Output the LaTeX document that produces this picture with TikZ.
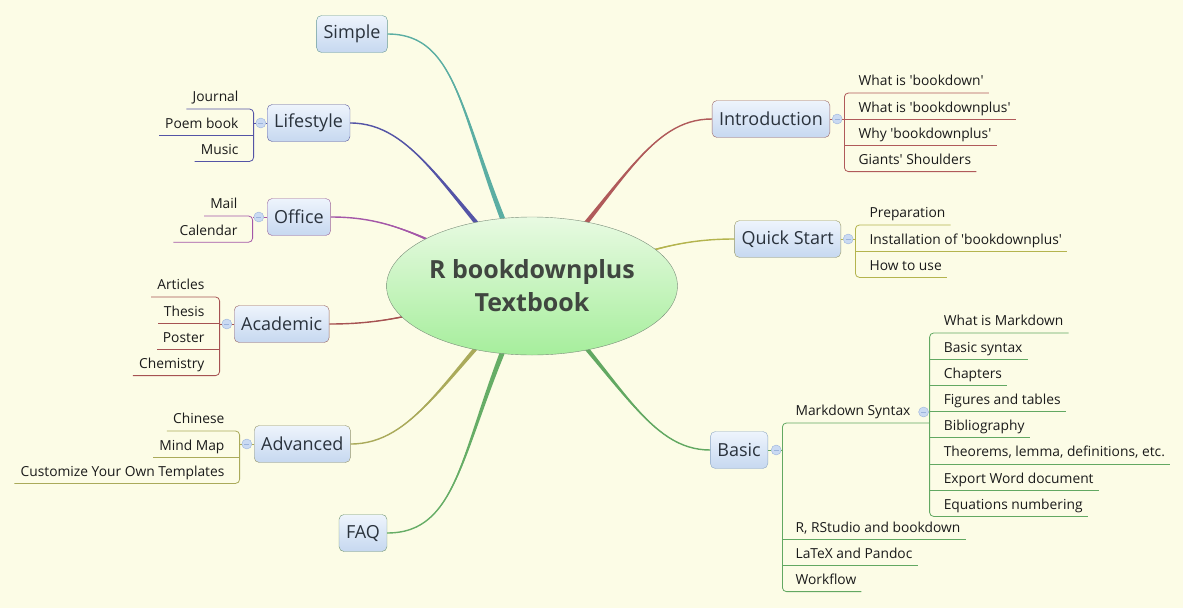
\documentclass[tikz,border=0pt]{standalone}
\usepackage{fontspec}
\setmainfont{Open Sans}
\usetikzlibrary{positioning,shapes.geometric,calc}

\definecolor{bgpaper}{HTML}{FCFCE6}
\definecolor{boxtop}{HTML}{EEF4FC}
\definecolor{boxbot}{HTML}{C6D8F0}
\definecolor{roottop}{HTML}{E8FAE2}
\definecolor{rootbot}{HTML}{A6EE9C}
\definecolor{rootedge}{HTML}{7A8E7A}
\definecolor{roottext}{HTML}{404640}
\definecolor{topictext}{HTML}{2A323C}
\definecolor{itemtext}{HTML}{1A1A1A}
\definecolor{foldfill}{HTML}{CADAF2}
\definecolor{foldedge}{HTML}{9CB4DC}
\definecolor{cSimple}{HTML}{5BAEA3}
\definecolor{cLife}{HTML}{5454A6}
\definecolor{cOffice}{HTML}{A457A8}
\definecolor{cAcad}{HTML}{A65252}
\definecolor{cAdv}{HTML}{AAAA5A}
\definecolor{cFaq}{HTML}{66AD66}
\definecolor{cIntro}{HTML}{B05A5A}
\definecolor{cQuick}{HTML}{B4B44E}
\definecolor{cBasic}{HTML}{62A862}
\definecolor{basicedge}{HTML}{8FA8C4}

\newcommand{\sq}{\textquotesingle}

\tikzset{
  topic/.style={draw=#1, rounded corners=5pt, minimum height=37pt, inner xsep=7pt, top color=boxtop, bottom color=boxbot, text=topictext, font=\fontsize{18}{20}\selectfont},
  root/.style={ellipse, draw=rootedge, top color=roottop, bottom color=rootbot, minimum width=286pt, minimum height=138pt, inner sep=0pt, align=center, text=roottext, font=\fontsize{25}{33}\selectfont\bfseries},
  ritem/.style={inner xsep=5pt, inner ysep=0pt, text height=18.8pt, text depth=7pt, text=itemtext, font=\fontsize{13.8}{16}\selectfont},
  litem/.style={ritem, inner xsep=6pt},
  fold/.style={circle, draw=foldedge, fill=foldfill, minimum size=10pt, inner sep=0pt,
    path picture={\draw[foldedge, line width=0.8pt] ([xshift=-2.5pt]path picture bounding box.center) -- ([xshift=2.5pt]path picture bounding box.center);}},
  sub/.style={#1, line width=0.8pt},
}

% tapered branch: colour, from, control 1, control 2, to
\newcommand{\branch}[5]{%
  \fill[#1] ($(#2)!3.5pt!90:(#3)$) .. controls ($(#3)!1.5pt!90:(#4)$) and (#4) .. (#5)
    .. controls (#4) and ($(#3)!1.5pt!-90:(#4)$) .. ($(#2)!3.5pt!-90:(#3)$) -- cycle;
  \draw[#1, line width=1.4pt] (#2) .. controls (#3) and (#4) .. (#5);}

\begin{document}
\begin{tikzpicture}[x=1pt, y=-1pt]
\useasboundingbox (0,0) rectangle (1183,608);
\fill[bgpaper] (0,0) rectangle (1183,608);
\coordinate (ctr) at (532,286);

% --- main topics ---
\node (simple) [topic=cSimple!60!gray] at (352,34) {Simple};
\node (life)   [topic=cLife!80!gray, anchor=west] at (267,123) {Lifestyle};
\node (office) [topic=cOffice!70!gray, anchor=west] at (267,217) {Office};
\node (acad)   [topic=cAcad!60!gray, anchor=west] at (234,324) {Academic};
\node (adv)    [topic=cAdv!50!gray, anchor=west] at (254,444) {Advanced};
\node (faq)    [topic=cFaq!50!gray] at (363,533) {FAQ};
\node (intro)  [topic=cIntro!60!gray, anchor=east] at (830,119) {Introduction};
\node (quick)  [topic=cQuick!50!gray, anchor=east] at (841,239) {Quick Start};
\node (basic)  [topic=basicedge, anchor=east] at (768,450) {Basic};

% --- branches (under the central topic) ---
\branch{cSimple}{ctr}{460,140}{467,34}{simple.east}
\branch{cLife}{ctr}{445,195}{414,123}{life.east}
\branch{cOffice}{ctr}{432,246}{402,217}{office.east}
\branch{cAcad}{ctr}{430,308}{400,324}{acad.east}
\branch{cAdv}{ctr}{445,375}{414,444}{adv.east}
\branch{cFaq}{ctr}{460,429}{467,533}{faq.east}
\branch{cIntro}{ctr}{622,189}{649,119}{intro.west}
\branch{cQuick}{ctr}{633,259}{664,239}{quick.west}
\branch{cBasic}{ctr}{622,381}{649,450}{basic.west}

% --- central topic ---
\node (rootnode) [root] at (ctr) {R bookdownplus\\Textbook};

% --- Lifestyle ---
\node (lifefold) [fold, left=1pt of life] {};
\coordinate (lifev) at ($(lifefold.west)+(-2,0)$);
\node (life1) [litem, anchor=south east] at ($(lifev)+(-9,-14)$) {Journal};
\node (life2) [litem, below=0pt of life1.south east, anchor=north east] {Poem book};
\node (life3) [litem, below=0pt of life2.south east, anchor=north east] {Music};
\draw[sub=cLife] (life) -- (lifefold) -- (lifev);
\draw[sub=cLife, rounded corners=4pt] (life1.south west) -- (lifev |- life1.south) -- (lifev |- life3.south) -- (life3.south west);
\draw[sub=cLife] (lifev |- life2.south) -- (life2.south west);

% --- Office ---
\node (officefold) [fold, left=3pt of office] {};
\coordinate (officev) at ($(officefold.west)+(-1,0)$);
\node (office1) [litem, anchor=south east] at ($(officev)+(-9,-1)$) {Mail};
\node (office2) [litem, below=0pt of office1.south east, anchor=north east] {Calendar};
\draw[sub=cOffice] (office) -- (officefold) -- (officev);
\draw[sub=cOffice, rounded corners=4pt] (office1.south west) -- (officev |- office1.south) -- (officev |- office2.south) -- (office2.south west);

% --- Academic ---
\node (acadfold) [fold, left=2pt of acad] {};
\coordinate (acadv) at ($(acadfold.west)+(-2,0)$);
\node (acad1) [litem, anchor=south east] at ($(acadv)+(-9,-27)$) {Articles};
\node (acad2) [litem, below=0pt of acad1.south east, anchor=north east] {Thesis};
\node (acad3) [litem, below=0pt of acad2.south east, anchor=north east] {Poster};
\node (acad4) [litem, below=0pt of acad3.south east, anchor=north east] {Chemistry};
\draw[sub=cAcad] (acad) -- (acadfold) -- (acadv);
\draw[sub=cAcad, rounded corners=4pt] (acad1.south west) -- (acadv |- acad1.south) -- (acadv |- acad4.south) -- (acad4.south west);
\foreach \i in {2,3} \draw[sub=cAcad] (acadv |- acad\i.south) -- (acad\i.south west);

% --- Advanced ---
\node (advfold) [fold, left=2pt of adv] {};
\coordinate (advv) at ($(advfold.west)+(-2,0)$);
\node (adv1) [litem, anchor=south east] at ($(advv)+(-9,-13)$) {Chinese};
\node (adv2) [litem, below=0pt of adv1.south east, anchor=north east] {Mind Map};
\node (adv3) [litem, below=0pt of adv2.south east, anchor=north east] {Customize Your Own Templates};
\draw[sub=cAdv] (adv) -- (advfold) -- (advv);
\draw[sub=cAdv, rounded corners=4pt] (adv1.south west) -- (advv |- adv1.south) -- (advv |- adv3.south) -- (adv3.south west);
\draw[sub=cAdv] (advv |- adv2.south) -- (adv2.south west);

% --- Introduction ---
\node (introfold) [fold, right=2pt of intro] {};
\coordinate (introv) at ($(introfold.east)+(2,0)$);
\node (intro1) [ritem, anchor=south west] at ($(introv)+(9,-26)$) {What is \sq bookdown\sq};
\node (intro2) [ritem, below=0pt of intro1.south west, anchor=north west] {What is \sq bookdownplus\sq};
\node (intro3) [ritem, below=0pt of intro2.south west, anchor=north west] {Why \sq bookdownplus\sq};
\node (intro4) [ritem, below=0pt of intro3.south west, anchor=north west] {Giants\sq\ Shoulders};
\draw[sub=cIntro] (intro) -- (introfold) -- (introv);
\draw[sub=cIntro, rounded corners=4pt] (intro1.south east) -- (introv |- intro1.south) -- (introv |- intro4.south) -- (intro4.south east);
\foreach \i in {2,3} \draw[sub=cIntro] (introv |- intro\i.south) -- (intro\i.south east);

% --- Quick Start ---
\node (quickfold) [fold, right=2pt of quick] {};
\coordinate (quickv) at ($(quickfold.east)+(2,0)$);
\node (quick1) [ritem, anchor=south west] at ($(quickv)+(9,-14)$) {Preparation};
\node (quick2) [ritem, below=0pt of quick1.south west, anchor=north west] {Installation of \sq bookdownplus\sq};
\node (quick3) [ritem, below=0pt of quick2.south west, anchor=north west] {How to use};
\draw[sub=cQuick] (quick) -- (quickfold) -- (quickv);
\draw[sub=cQuick, rounded corners=4pt] (quick1.south east) -- (quickv |- quick1.south) -- (quickv |- quick3.south) -- (quick3.south east);
\draw[sub=cQuick] (quickv |- quick2.south) -- (quick2.south east);

% --- Basic ---
\node (basicfold) [fold, right=3pt of basic] {};
\coordinate (basicv) at ($(basicfold.east)+(1,0)$);
\node (md) [ritem, anchor=south west] at ($(basicv)+(8,-27)$) {Markdown Syntax};
\node (rstudio) [ritem, below=90pt of md.south west, anchor=north west] {R, RStudio and bookdown};
\node (latex) [ritem, below=0pt of rstudio.south west, anchor=north west] {LaTeX and Pandoc};
\node (workflow) [ritem, below=0pt of latex.south west, anchor=north west] {Workflow};
\coordinate (mdv) at ($(md.south east)+(14,0)$);
\node (mdfold) [fold] at ($(mdv)+(-6,-11)$) {};
\draw[sub=cBasic] (basic) -- (basicfold) -- (basicv);
\draw[sub=cBasic, rounded corners=4pt] (mdv) -- (basicv |- md.south) -- (basicv |- workflow.south) -- (workflow.south east);
\foreach \n in {rstudio,latex} \draw[sub=cBasic] (basicv |- \n.south) -- (\n.south east);

% --- Markdown Syntax ---
\node (md1) [ritem, anchor=south west] at ($(mdv)+(9,-90)$) {What is Markdown};
\node (md2) [ritem, below=0pt of md1.south west, anchor=north west] {Basic syntax};
\node (md3) [ritem, below=0pt of md2.south west, anchor=north west] {Chapters};
\node (md4) [ritem, below=0pt of md3.south west, anchor=north west] {Figures and tables};
\node (md5) [ritem, below=0pt of md4.south west, anchor=north west] {Bibliography};
\node (md6) [ritem, below=0pt of md5.south west, anchor=north west] {Theorems, lemma, definitions, etc.};
\node (md7) [ritem, below=0pt of md6.south west, anchor=north west] {Export Word document};
\node (md8) [ritem, below=0pt of md7.south west, anchor=north west] {Equations numbering};
\draw[sub=cBasic, rounded corners=4pt] (md1.south east) -- (mdv |- md1.south) -- (mdv |- md8.south) -- (md8.south east);
\foreach \i in {2,...,7} \draw[sub=cBasic] (mdv |- md\i.south) -- (md\i.south east);

\end{tikzpicture}
\end{document}
